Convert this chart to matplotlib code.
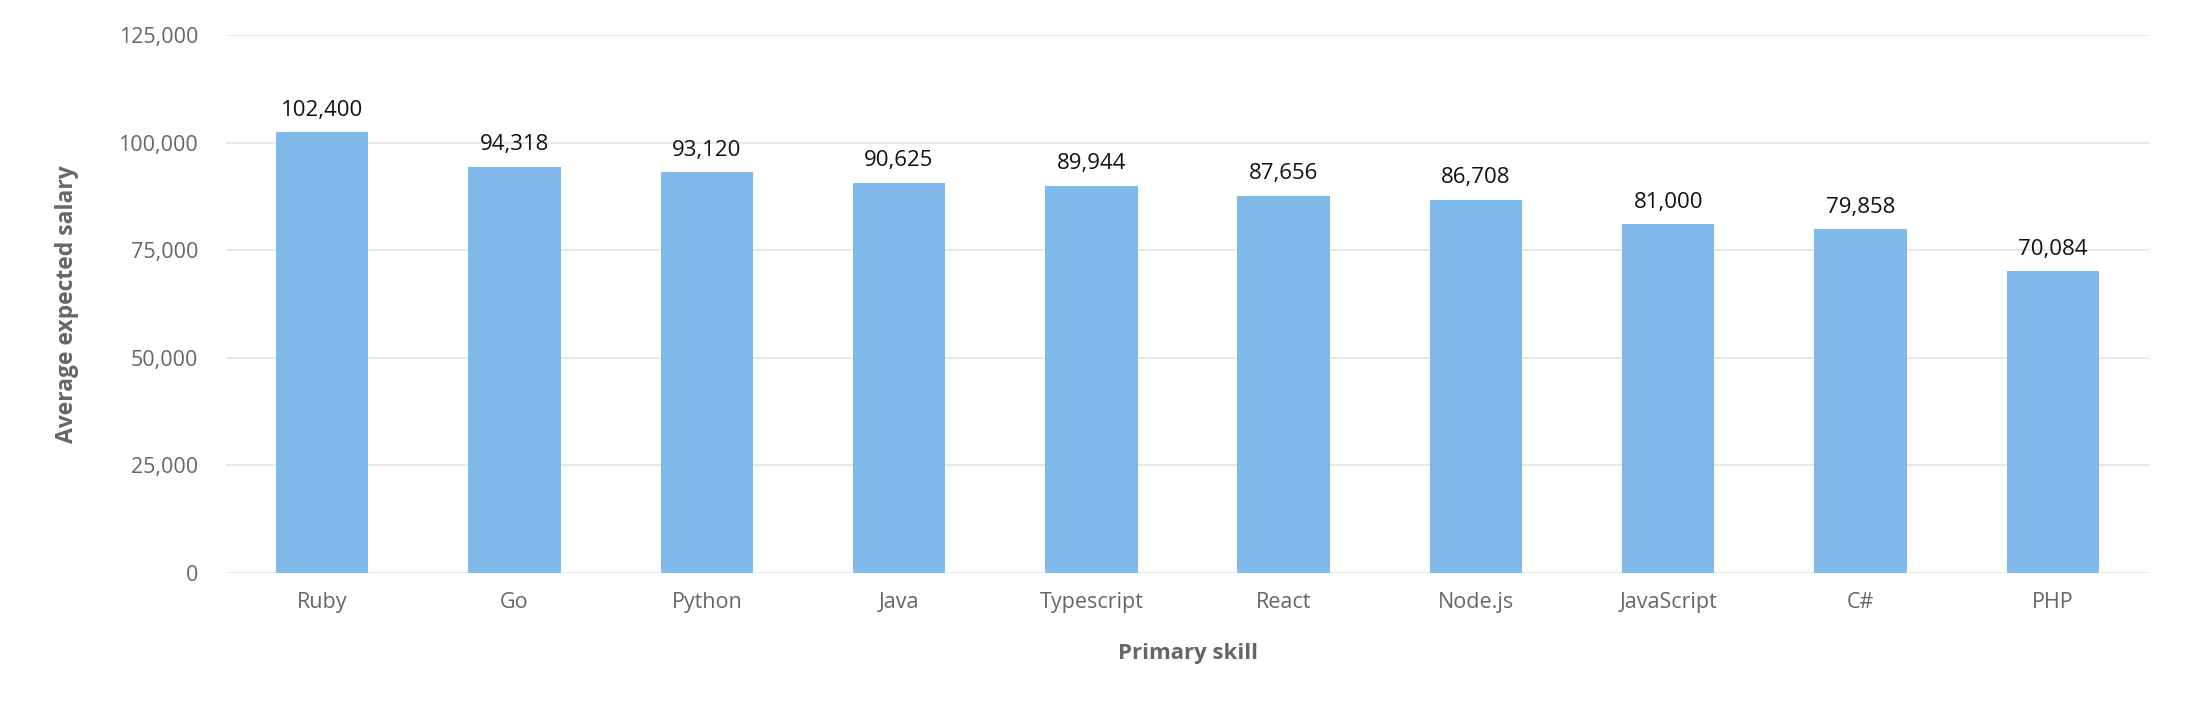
import matplotlib
matplotlib.use("Agg")
import matplotlib.pyplot as plt
from matplotlib.ticker import FuncFormatter

categories = ["Ruby", "Go", "Python", "Java", "Typescript", "React", "Node.js",
              "JavaScript", "C#", "PHP"]
salaries = [102400, 94318, 93120, 90625, 89944, 87656, 86708, 81000, 79858, 70084]
y_ticks = [0, 25000, 50000, 75000, 100000, 125000]

plt.rcParams['font.family'] = ['Open Sans', 'DejaVu Sans']

W, H = 2210, 722
fig = plt.figure(figsize=(W / 100, H / 100), dpi=100)
left, right, bottom, top = 226, 2149, 573, 35
ax = fig.add_axes([left / W, 1 - bottom / H, (right - left) / W, (bottom - top) / H])

x = range(len(categories))
bars = ax.bar(x, salaries, width=0.48, color="#7fbaea", zorder=3)

ax.set_xlim(-0.5, len(categories) - 0.5)
ax.set_ylim(0, 125000)
ax.set_yticks(y_ticks)
ax.yaxis.set_major_formatter(FuncFormatter(lambda v, p: f"{int(v):,}"))
ax.set_xticks(list(x))
ax.set_xticklabels(categories)

ax.grid(axis="y", color="#e4e4e4", linewidth=1.2, zorder=0)
ax.set_axisbelow(True)
for s in ax.spines.values():
    s.set_visible(False)
ax.tick_params(axis="both", length=0, labelsize=15.5, labelcolor="#666666")
ax.tick_params(axis="y", pad=20)
ax.tick_params(axis="x", pad=14)

for xi, v in zip(x, salaries):
    ax.annotate(f"{v:,}", xy=(xi, v), xytext=(0, 12), textcoords="offset points",
                ha="center", va="baseline", fontsize=16, color="#111111")

fig.text(67 / W, 1 - 304 / H, "Average expected salary", rotation=90,
         ha="center", va="center", fontsize=16.5, fontweight="bold", color="#666666")
fig.text((left + right) / 2 / W, 1 - 653 / H, "Primary skill",
         ha="center", va="center", fontsize=16, fontweight="bold", color="#666666")

fig.savefig("out.png", dpi=100, facecolor="white")
